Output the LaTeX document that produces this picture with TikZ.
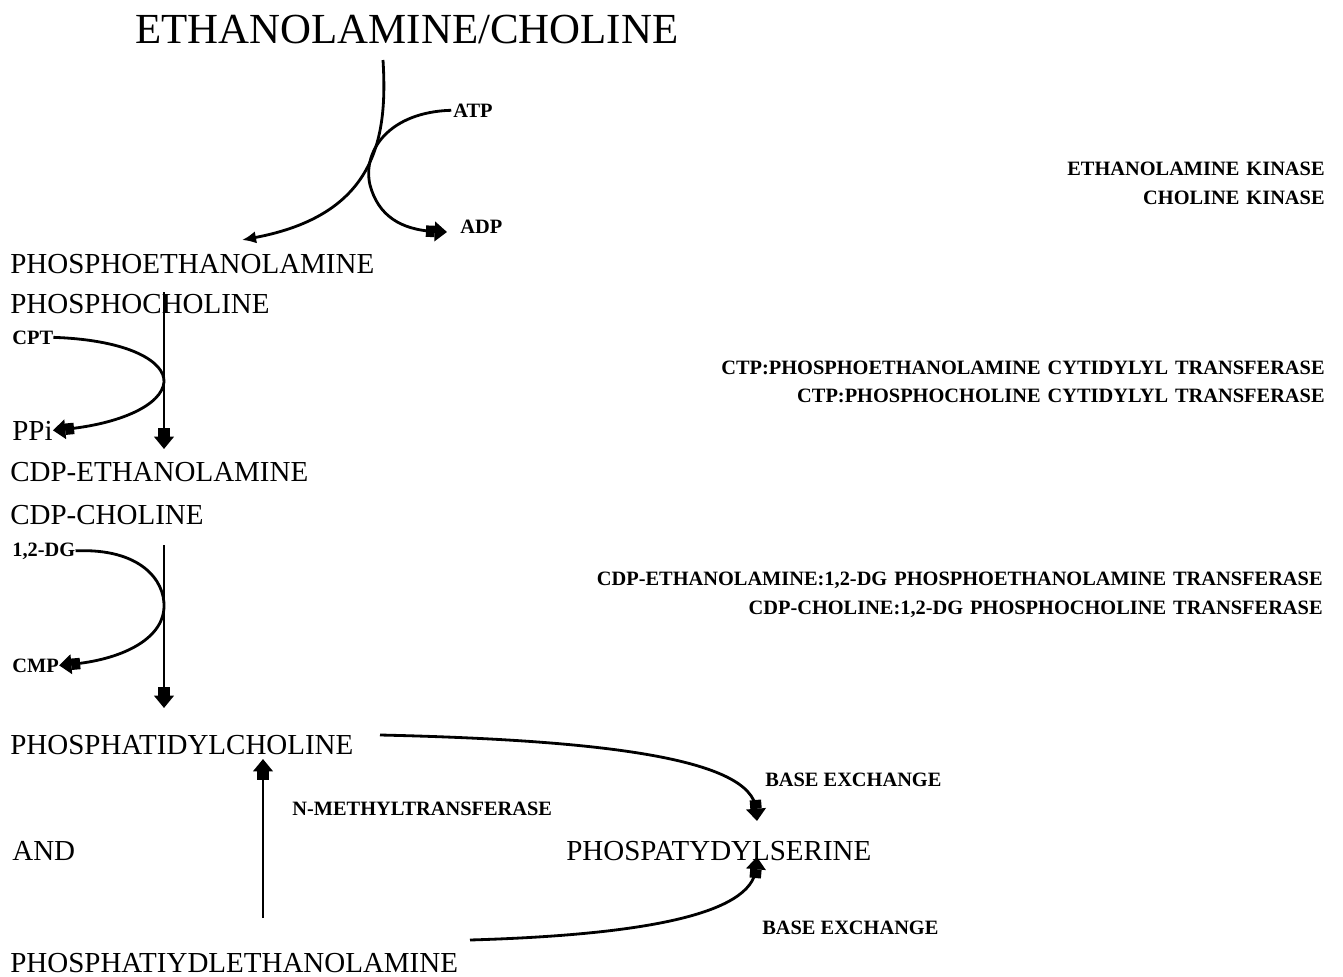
\documentclass[tikz,border=0pt]{standalone}
\usepackage{fontspec}
\setmainfont{Liberation Serif}
\usetikzlibrary{arrows.meta}

\newcommand{\wsp}{\hspace{4pt}}

\begin{document}
\begin{tikzpicture}[x=0.02cm, y=-0.02cm,
	big/.style={font=\fontsize{16.5}{19}\selectfont, inner sep=0pt, anchor=base west},
	small/.style={font=\fontsize{11.6}{13}\selectfont\bfseries, inner sep=0pt, anchor=base west},
	enzyme/.style={small, anchor=base east},
	curve/.style={line width=1.6pt},
	fat/.style={curve, -{Rectangle[length=5pt,width=6.5pt,sep=0pt]Triangle[length=7pt,width=11pt]}},
	thin/.style={curve, -{Latex[length=8pt,width=7pt]}}]

	\useasboundingbox (0,0) rectangle (1343,977);

	% metabolites
	\node [big, font=\fontsize{24.4}{28}\selectfont] (title) at (135,43) {ETHANOLAMINE/CHOLINE};
	\node [big] (pe) at (10,273) {PHOSPHOETHANOLAMINE};
	\node [big] (pc) at (10,313) {PHOSPHOCHOLINE};
	\node [big] (ppi) at (12,440) {PPi};
	\node [big] (cdpe) at (10,481) {CDP-ETHANOLAMINE};
	\node [big] (cdpc) at (10,524) {CDP-CHOLINE};
	\node [big] (ptdc) at (10,754) {PHOSPHATIDYLCHOLINE};
	\node [big] (and) at (12,860) {AND};
	\node [big] (ptde) at (10,972) {PHOSPHATIYDLETHANOLAMINE};
	\node [big] (ptds) at (566,860) {PHOSPATYDYLSERINE};

	% cofactors
	\node [small] (atp) at (453,117) {ATP};
	\node [small] (adp) at (460,233) {ADP};
	\node [small] (cpt) at (12,344) {CPT};
	\node [small] (dg) at (12,556) {1,2-DG};
	\node [small] (cmp) at (12,672) {CMP};
	\node [small] (nmt) at (292,815) {N-METHYLTRANSFERASE};
	\node [small] (bex1) at (765,786) {BASE EXCHANGE};
	\node [small] (bex2) at (762,934) {BASE EXCHANGE};

	% enzymes
	\node [enzyme] (ek) at (1325,175) {ETHANOLAMINE\wsp KINASE};
	\node [enzyme] (ck) at (1325,204) {CHOLINE\wsp KINASE};
	\node [enzyme] (ctpe) at (1325,374) {CTP:PHOSPHOETHANOLAMINE\wsp CYTIDYLYL\wsp TRANSFERASE};
	\node [enzyme] (ctpc) at (1325,402) {CTP:PHOSPHOCHOLINE\wsp CYTIDYLYL\wsp TRANSFERASE};
	\node [enzyme] (cdpet) at (1323,585) {CDP-ETHANOLAMINE:1,2-DG\wsp PHOSPHOETHANOLAMINE\wsp TRANSFERASE};
	\node [enzyme] (cdpct) at (1323,614) {CDP-CHOLINE:1,2-DG\wsp PHOSPHOCHOLINE\wsp TRANSFERASE};

	\coordinate (kin top) at (383,60);
	\coordinate (kin end) at (242,240);
	\coordinate (adp tip) at (447,232);
	\coordinate (ct top) at (164,292);
	\coordinate (ct end) at (164,449);
	\coordinate (pt top) at (164,545);
	\coordinate (pt end) at (164,708);
	\coordinate (bx1 start) at (380,735);
	\coordinate (bx1 end) at (757,821);
	\coordinate (bx2 start) at (470,940);
	\coordinate (bx2 end) at (757,857);
	\coordinate (nm start) at (263,918);
	\coordinate (nm end) at (263,759);

	% kinase step
	\draw [thin] (kin top) .. controls (388,140) and (375,215) .. (kin end);
	\draw [fat] ([xshift=-1pt]atp.west) .. controls (390,112) and (362,150) .. (370,185)
		.. controls (378,215) and (400,230) .. (adp tip);

	% cytidylyl transferase step
	\draw [fat] (ct top) -- (ct end);
	\draw [fat] (cpt.east) .. controls (130,340) and (165,362) .. (164,382)
		.. controls (162,405) and (120,424) .. (ppi.east);

	% phosphotransferase step
	\draw [fat] (pt top) -- (pt end);
	\draw [fat] (dg.east) .. controls (140,548) and (165,580) .. (164,607)
		.. controls (163,640) and (120,660) .. (cmp.east);

	% base exchange and methylation
	\draw [fat] (bx1 start) .. controls (600,740) and (752,758) .. (bx1 end);
	\draw [fat] (bx2 start) .. controls (640,935) and (752,915) .. (bx2 end);
	\draw [fat] (nm start) -- (nm end);
\end{tikzpicture}
\end{document}
